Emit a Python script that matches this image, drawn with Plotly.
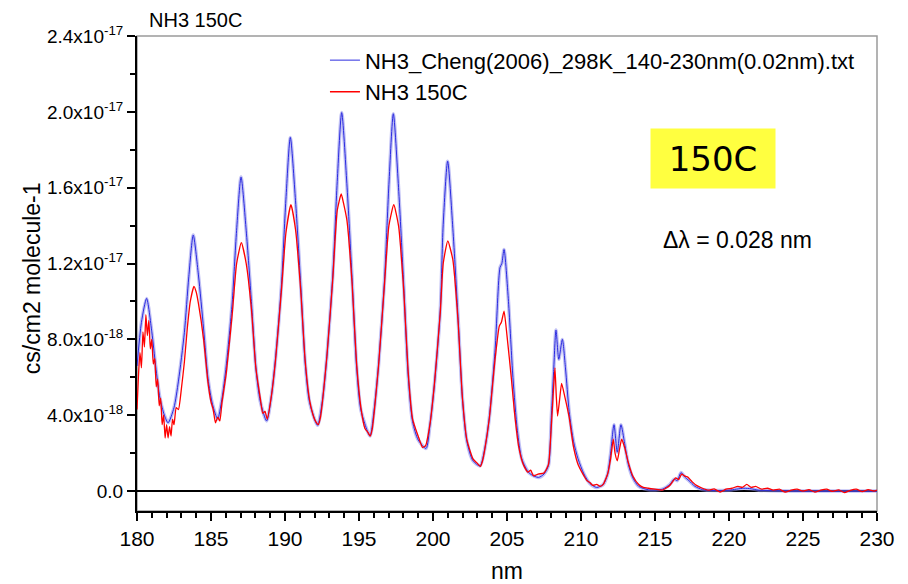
import plotly.graph_objects as go

# ── Spectra (y in units of 1e-18 cm2/molecule) ─────────────────────────────────
cheng_nm = [
    180.0, 180.3, 180.65, 181.0, 181.26, 181.55, 181.85, 182.1,
    182.5, 182.8, 183.2, 183.5, 183.8, 184.15, 184.5, 184.8, 185.1, 185.45,
    185.73, 186.03, 186.43, 186.73, 187.03, 187.38, 187.73, 188.03, 188.33, 188.76,
    189.06, 189.36, 189.76, 190.06, 190.36, 190.71, 191.06, 191.36, 191.66, 192.2,
    192.53, 192.83, 193.23, 193.53, 193.83, 194.18, 194.53, 194.83, 195.13, 195.74,
    196.02, 196.32, 196.72, 197.02, 197.32, 197.67, 198.02, 198.32, 198.62, 199.0, 199.53,
    199.79, 200.09, 200.49, 200.69, 200.99, 201.34, 201.69, 201.99, 202.29, 202.7, 203.18,
    203.5, 203.8, 204.2, 204.53, 204.65, 204.8, 205.1, 205.4, 205.7, 206.0, 206.5, 207.12,
    207.5, 207.8, 208.0, 208.15, 208.31, 208.5, 208.74, 208.95, 209.2, 209.5, 209.8,
    210.2, 210.6, 211.06,
    211.5, 211.8, 212.0, 212.23, 212.45, 212.7, 212.95, 213.2, 213.5, 213.9, 214.55,
    215.5, 216.0, 216.3, 216.5, 216.76, 217.0, 217.3, 217.7, 218.2, 219.0,
    220.0, 221.0, 221.5, 222.0, 223.0, 225.0, 228.0, 230.0,
]
cheng_val = [
    6.6, 8.9, 10.16, 8.4, 6.6, 4.9, 4.0, 3.6,
    4.4, 5.8, 8.35, 11.3, 13.5, 11.4, 8.55, 5.93, 4.58, 3.8,
    4.82, 6.61, 9.92, 13.75, 16.56, 13.73, 10.0, 6.53, 4.73, 3.7,
    4.9, 6.99, 10.88, 15.36, 18.65, 15.31, 10.91, 6.81, 4.68, 3.47,
    4.79, 7.1, 11.39, 16.33, 19.96, 16.21, 11.26, 6.66, 4.27, 2.91,
    4.27, 6.65, 11.07, 16.16, 19.9, 16.02, 10.9, 6.13, 3.66, 2.7, 2.25,
    3.46, 5.58, 9.52, 14.07, 17.4, 13.86, 9.2, 4.87, 2.62, 1.6, 1.33,
    2.24, 3.84, 7.5, 11.8, 12.0, 12.74, 10.0, 6.0, 3.2, 1.7, 0.95, 0.72,
    0.9, 1.35, 4.0, 6.3, 8.49, 6.95, 8.0, 6.5, 4.2, 2.6, 1.7,
    0.9, 0.4, 0.19,
    0.35, 0.9, 2.0, 3.5, 2.05, 3.5, 2.5, 1.4, 0.7, 0.25, 0.07,
    0.1, 0.35, 0.63, 0.55, 0.98, 0.75, 0.55, 0.25, 0.08, 0.03,
    0.05, 0.15, 0.12, 0.05, 0.02, 0.0, 0.0, 0.0,
]

meas_nm = [
    180.0, 180.1, 180.2, 180.3, 180.4, 180.5, 180.6, 180.7, 180.8, 180.9,
    181.0, 181.1, 181.2, 181.3, 181.4, 181.5, 181.6, 181.7, 181.8, 181.9,
    182.0, 182.1, 182.2, 182.3, 182.4, 182.5, 182.65, 182.8, 183.0, 183.2,
    183.4, 183.6, 183.85, 184.0, 184.15, 184.5, 184.8, 185.0, 185.15, 185.3,
    185.45, 185.6, 185.73, 186.03, 186.43, 186.73, 187.05, 187.38, 187.73, 188.03,
    188.33, 188.5, 188.65, 188.8, 189.06, 189.36, 189.76, 190.06, 190.4, 190.71,
    191.06, 191.36, 191.66, 191.9, 192.05, 192.25, 192.4, 192.53, 192.83, 193.23,
    193.53, 193.8, 193.95, 194.18, 194.53, 194.83, 195.13, 195.4, 195.6, 195.75,
    195.9, 196.02, 196.32, 196.72, 197.02, 197.35, 197.67, 198.02, 198.32, 198.62,
    199.0, 199.3, 199.5, 199.79, 200.09, 200.49, 200.69, 201.0, 201.34, 201.69,
    201.99, 202.29, 202.7, 202.95, 203.2, 203.35, 203.5, 203.8, 204.2, 204.48,
    204.62, 204.8, 205.0, 205.3, 205.5, 205.8, 206.1, 206.4, 206.6, 206.8,
    207.1, 207.5, 207.8, 208.0, 208.15, 208.24, 208.33, 208.42, 208.55, 208.69,
    208.9, 209.2, 209.5, 209.8, 210.2, 210.4, 210.6, 210.8, 211.06, 211.3,
    211.5, 211.8, 212.0, 212.18, 212.3, 212.45, 212.6, 212.75, 212.95, 213.2,
    213.5, 213.9, 214.2, 214.55, 215.0, 215.5, 216.0, 216.4, 216.6, 216.8,
    217.0, 217.2, 217.5, 217.8, 218.2, 218.6, 219.0, 219.4, 219.8, 220.2,
    220.6, 220.9, 221.2, 221.5, 221.8, 222.2, 222.6, 223.0, 223.4, 223.8,
    224.2, 224.6, 225.0, 225.4, 225.8, 226.2, 226.6, 227.0, 227.4, 227.8,
    228.2, 228.6, 229.0, 229.4, 229.8, 230.0,
]
meas_val = [
    4.3, 6.1, 7.3, 6.5, 8.4, 7.6, 9.3, 8.2, 9.0, 7.5,
    8.0, 6.7, 7.0, 5.5, 5.9, 4.5, 4.9, 3.5, 4.0, 2.8,
    3.5, 2.8, 3.4, 2.9, 3.8, 3.5, 4.4, 4.3, 5.4, 6.8,
    8.6, 10.0, 10.8, 10.5, 9.9, 8.0, 5.7, 4.7, 4.3, 3.6,
    3.9, 3.7, 4.6, 6.2, 9.3, 12.0, 13.1, 12.0, 9.6, 6.5,
    4.9, 4.1, 4.2, 3.8, 4.9, 6.9, 10.6, 13.6, 15.1, 13.8,
    10.6, 6.9, 4.8, 4.0, 3.7, 3.5, 3.9, 4.7, 7.1, 11.2,
    14.8, 15.67, 15.2, 14.3, 11.0, 6.8, 4.4, 3.3, 3.1, 2.9,
    3.3, 4.1, 6.6, 10.9, 14.0, 15.1, 14.0, 10.6, 6.3, 3.8,
    2.9, 2.3, 2.4, 3.5, 5.6, 9.4, 12.0, 13.2, 12.2, 9.0,
    4.9, 2.7, 1.7, 1.5, 1.3, 1.6, 2.2, 3.8, 7.0, 8.7,
    8.9, 9.49, 8.2, 5.9, 4.2, 2.3, 1.4, 1.0, 1.1, 0.8,
    0.9, 0.95, 1.4, 3.5, 5.5, 6.5, 5.0, 3.96, 4.8, 5.68,
    5.0, 3.9, 2.3, 1.4, 0.8, 0.55, 0.45, 0.3, 0.35, 0.25,
    0.35, 0.9, 1.7, 2.74, 2.0, 1.6, 2.2, 2.74, 2.3, 1.5,
    0.8, 0.35, 0.2, 0.15, 0.1, 0.05, 0.3, 0.7, 0.6, 0.9,
    0.8, 0.75, 0.5, 0.3, 0.15, 0.05, 0.12, -0.05, 0.1, 0.15,
    0.25, 0.2, 0.35, 0.2, 0.25, 0.1, 0.15, 0.05, 0.1, -0.05,
    0.05, 0.1, 0.0, 0.08, -0.05, 0.05, 0.1, -0.02, 0.06, -0.08,
    0.04, 0.1, -0.03, 0.08, 0.0, 0.05,
]

SCALE = 1e-18
y_ticks = [0, 4e-18, 8e-18, 1.2e-17, 1.6e-17, 2.0e-17, 2.4e-17]
y_ticktext = ["0.0", "4.0x10<sup>-18</sup>", "8.0x10<sup>-18</sup>", "1.2x10<sup>-17</sup>",
              "1.6x10<sup>-17</sup>", "2.0x10<sup>-17</sup>", "2.4x10<sup>-17</sup>"]

FONT = "Liberation Sans, Arial, sans-serif"
NARROW = "Liberation Sans Narrow, Arial Narrow, Liberation Sans, sans-serif"

cheng_y = [v * SCALE for v in cheng_val]
meas_y = [v * SCALE for v in meas_val]

fig = go.Figure()

# light halo imitating the dense open-circle markers of the reference curve
fig.add_trace(go.Scatter(
    x=cheng_nm, y=cheng_y, mode="lines", showlegend=False, hoverinfo="skip",
    line=dict(color="rgba(140,140,235,0.55)", width=3.5, shape="spline", smoothing=0.7),
))
fig.add_trace(go.Scatter(
    x=cheng_nm, y=cheng_y, mode="lines",
    name="NH3_Cheng(2006)_298K_140-230nm(0.02nm).txt",
    line=dict(color="#2b2be0", width=1, shape="spline", smoothing=0.7),
))
fig.add_trace(go.Scatter(
    x=meas_nm, y=meas_y, mode="lines", name="NH3 150C",
    line=dict(color="#ff0000", width=1.3, shape="spline", smoothing=0.5),
))

# grey frame on top/right
fig.add_shape(type="rect", xref="paper", yref="paper", x0=0, y0=0, x1=1, y1=1,
              line=dict(color="#9a9a9a", width=1.5), layer="below")

fig.add_annotation(text="NH3 150C", xref="paper", yref="paper", x=0.015, y=1.059,
                   xanchor="left", yanchor="top", showarrow=False, borderpad=0,
                   font=dict(size=20, color="black", family=FONT))
fig.add_annotation(text="cs/cm2 molecule-1", xref="paper", yref="paper", x=-0.142, y=0.49,
                   xanchor="center", yanchor="middle", showarrow=False, textangle=-90,
                   font=dict(size=23, color="black", family=FONT))
fig.add_annotation(text="150C", xref="paper", yref="paper", x=0.7788, y=0.7429,
                   xanchor="center", yanchor="middle", showarrow=False,
                   width=108, height=43, borderpad=8, bgcolor="#ffff40",
                   font=dict(size=34, color="black", family="DejaVu Sans, Verdana, sans-serif"))
fig.add_annotation(text="Δλ = 0.028 nm", xref="paper", yref="paper", x=0.811, y=0.571,
                   xanchor="center", yanchor="middle", showarrow=False,
                   font=dict(size=23, color="black", family=FONT))

fig.update_layout(
    width=908, height=584,
    margin=dict(l=129, r=39, t=28, b=78),
    plot_bgcolor="white", paper_bgcolor="white",
    font=dict(family=FONT, color="black", size=18),
    showlegend=True,
    legend=dict(x=0.254, y=0.993, xanchor="left", yanchor="top",
                bgcolor="rgba(0,0,0,0)", font=dict(size=22, family=FONT),
                tracegroupgap=0),
    xaxis=dict(
        range=[180, 230], tickmode="linear", tick0=180, dtick=5,
        ticks="outside", ticklen=8, tickwidth=1.5, tickcolor="black",
        minor=dict(tick0=180, dtick=1, ticks="outside", ticklen=5, tickwidth=1.5, tickcolor="black"),
        showline=True, linecolor="black", linewidth=2, showgrid=False, zeroline=False,
        tickfont=dict(size=21, family=NARROW),
        title=dict(text="nm", font=dict(size=23, family=NARROW), standoff=14),
    ),
    yaxis=dict(
        range=[-1.05e-18, 2.4e-17], tickmode="array", tickvals=y_ticks, ticktext=y_ticktext,
        ticks="outside", ticklen=8, tickwidth=2, tickcolor="black",
        minor=dict(tick0=0, dtick=2e-18, ticks="outside", ticklen=5, tickwidth=2, tickcolor="black"),
        showline=True, linecolor="black", linewidth=2, showgrid=False,
        zeroline=True, zerolinecolor="black", zerolinewidth=2,
        tickfont=dict(size=19, family=FONT),
    ),
)

fig.write_html("out.html")
